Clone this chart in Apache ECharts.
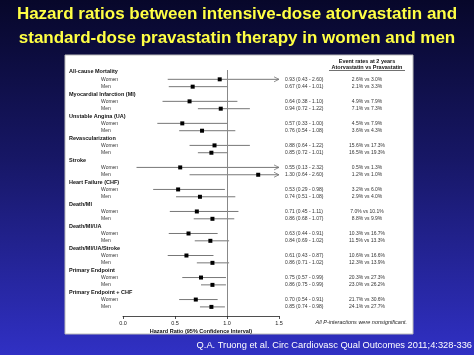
<!DOCTYPE html>
<html><head><meta charset="utf-8">
<script src="https://cdn.jsdelivr.net/npm/echarts@6/dist/echarts.min.js"></script>
<style>html,body{margin:0;padding:0;}#c{width:474px;height:355px;}</style>
</head><body><div id="c"></div>
<script>
const groups = ['All-cause Mortality','Myocardial Infarction (MI)','Unstable Angina (UA)','Revascularization','Stroke','Heart Failure (CHF)','Death/MI','Death/MI/UA','Death/MI/UA/Stroke','Primary Endpoint','Primary Endpoint + CHF'];
const womenHR = [0.93,0.64,0.57,0.88,0.55,0.53,0.71,0.63,0.61,0.75,0.70];
const womenLo = [0.43,0.38,0.33,0.64,0.13,0.29,0.45,0.44,0.43,0.57,0.54];
const womenHi = [2.60,1.10,1.00,1.22,2.32,0.98,1.11,0.91,0.87,0.99,0.91];
const menHR   = [0.67,0.94,0.76,0.85,1.30,0.74,0.86,0.84,0.86,0.86,0.85];
const menLo   = [0.44,0.72,0.54,0.72,0.64,0.51,0.68,0.69,0.71,0.75,0.74];
const menHi   = [1.01,1.22,1.08,1.01,2.60,1.08,1.07,1.02,1.02,0.99,0.98];
const womenRate = ['2.6% vs 3.0%','4.9% vs 7.9%','4.5% vs 7.9%','15.6% vs 17.3%','0.5% vs 1.3%','3.2% vs 6.0%','7.0% vs 10.1%','10.3% vs 16.7%','10.6% vs 16.6%','20.3% vs 27.3%','21.7% vs 30.6%'];
const menRate   = ['2.1% vs 3.3%','7.1% vs 7.3%','3.6% vs 4.3%','16.5% vs 19.3%','1.2% vs 1.0%','2.9% vs 4.0%','8.8% vs 9.9%','11.5% vs 13.3%','12.3% vs 13.9%','23.0% vs 26.2%','24.1% vs 27.7%'];
const xTicks = [0, 0.5, 1.0, 1.5];

const FONT = 'Liberation Sans, Arial, sans-serif';
const ciData = [];
const labelData = [];
groups.forEach((g, i) => {
  labelData.push([0, i*3, 0, i]);
  labelData.push([0, i*3+1, 1, i]);
  labelData.push([0, i*3+2, 2, i]);
  ciData.push([womenLo[i], womenHi[i], womenHR[i], i*3+1]);
  ciData.push([menLo[i], menHi[i], menHR[i], i*3+2]);
});
const fmtHR = (h,l,u) => h.toFixed(2)+' ('+l.toFixed(2)+' - '+u.toFixed(2)+')';

const chart = echarts.init(document.getElementById('c'));
chart.setOption({
  animation: false,
  graphic: [
    {type:'rect', z:-20, shape:{x:0,y:0,width:474,height:355}, style:{fill:{type:'linear',x:0,y:0,x2:0,y2:1,colorStops:[{offset:0,color:'#07072a'},{offset:0.45,color:'#171766'},{offset:1,color:'#3030c4'}]}}},
    {type:'rect', z:-10, shape:{x:65,y:55,width:348,height:279}, style:{fill:'#ffffff', stroke:'#bbbbbb', lineWidth:1}},
    {type:'text', z:5, style:{text:'Hazard ratios between intensive-dose atorvastatin and', x:237, y:14, textAlign:'center', textVerticalAlign:'middle', fill:'#ffff44', font:'bold 17px '+FONT}},
    {type:'text', z:5, style:{text:'standard-dose pravastatin therapy in women and men', x:237, y:38, textAlign:'center', textVerticalAlign:'middle', fill:'#ffff44', font:'bold 17px '+FONT}},
    {type:'text', z:5, style:{text:'Event rates at 2 years', x:367, y:61, textAlign:'center', textVerticalAlign:'middle', fill:'#111', font:'bold 5.5px '+FONT}},
    {type:'text', z:5, style:{text:'Atorvastatin vs Pravastatin', x:367, y:67, textAlign:'center', textVerticalAlign:'middle', fill:'#111', font:'bold 5.5px '+FONT}},
    {type:'line', z:5, shape:{x1:329, y1:70.5, x2:405, y2:70.5}, style:{stroke:'#111', lineWidth:0.6}},
    {type:'text', z:5, style:{text:'All P-interactions were nonsignificant.', x:407, y:322, textAlign:'right', textVerticalAlign:'middle', fill:'#222', font:'italic 5.5px '+FONT}},
    {type:'text', z:5, style:{text:'Q.A. Truong et al. Circ Cardiovasc Qual Outcomes 2011;4:328-336', x:472, y:345, textAlign:'right', textVerticalAlign:'middle', fill:'#ffffff', font:'9.3px '+FONT}}
  ],
  grid: {left:123, right:195, top:70, height:246, containLabel:false},
  xAxis: {
    type:'value', min:0, max:1.5, interval:0.5,
    axisLine:{show:true, onZero:false, lineStyle:{color:'#222', width:0.8}},
    axisTick:{show:true, length:3, lineStyle:{color:'#222', width:0.8}},
    splitLine:{show:false},
    axisLabel:{fontSize:5.5, color:'#222', fontFamily:FONT, margin:4, formatter: v => v.toFixed(1)},
    name:'Hazard Ratio (95% Confidence Interval)', nameLocation:'middle', nameGap:12, nameMoveOverlap:false,
    nameTextStyle:{fontSize:5.5, fontWeight:'bold', color:'#111', fontFamily:FONT}
  },
  yAxis: {type:'value', inverse:true, min:-0.27, max:33.24, show:false},
  series: [
    {
      type:'custom', data:ciData, clip:false, encode:{x:[0,1,2], y:3},
      renderItem(params, api) {
        const lo = api.value(0), hi = api.value(1), hr = api.value(2), row = api.value(3);
        const p1 = api.coord([lo,row]), p2 = api.coord([Math.min(hi,1.5),row]), pc = api.coord([hr,row]);
        const ch = [
          {type:'line', shape:{x1:p1[0], y1:p1[1], x2:p2[0], y2:p2[1]}, style:{stroke:'#777', lineWidth:1}},
          {type:'rect', shape:{x:pc[0]-2, y:pc[1]-2, width:4, height:4}, style:{fill:'#000'}}
        ];
        if (hi > 1.5) {
          ch.push({type:'polyline', shape:{points:[[p2[0]-5,p2[1]-2.5],[p2[0],p2[1]],[p2[0]-5,p2[1]+2.5]]}, style:{stroke:'#777', fill:null, lineWidth:0.8}});
        }
        return {type:'group', children:ch};
      },
      markLine:{silent:true, symbol:'none', label:{show:false}, lineStyle:{color:'#888', type:'solid', width:1}, data:[{xAxis:1}]}
    },
    {
      type:'custom', data:labelData, clip:false, encode:{x:0, y:1}, silent:true,
      renderItem(params, api) {
        const row = api.value(1), kind = api.value(2), g = api.value(3);
        const p = api.coord([0,row]);
        const pr = api.coord([1.5,row]);
        if (kind === 0) {
          return {type:'text', style:{text:groups[g], x:p[0]-54, y:p[1], textAlign:'left', textVerticalAlign:'middle', fill:'#111', font:'bold 5.5px '+FONT}};
        }
        const w = kind === 1;
        const hr = w ? womenHR[g] : menHR[g], lo = w ? womenLo[g] : menLo[g], hi = w ? womenHi[g] : menHi[g];
        return {type:'group', children:[
          {type:'text', style:{text: w ? 'Women' : 'Men', x:p[0]-22, y:p[1], textAlign:'left', textVerticalAlign:'middle', fill:'#333', font:'5px '+FONT}},
          {type:'text', style:{text: fmtHR(hr,lo,hi), x:pr[0]+6, y:p[1], textAlign:'left', textVerticalAlign:'middle', fill:'#333', font:'5px '+FONT}},
          {type:'text', style:{text: w ? womenRate[g] : menRate[g], x:pr[0]+88, y:p[1], textAlign:'center', textVerticalAlign:'middle', fill:'#333', font:'5px '+FONT}}
        ]};
      }
    }
  ]
});
</script></body></html>
